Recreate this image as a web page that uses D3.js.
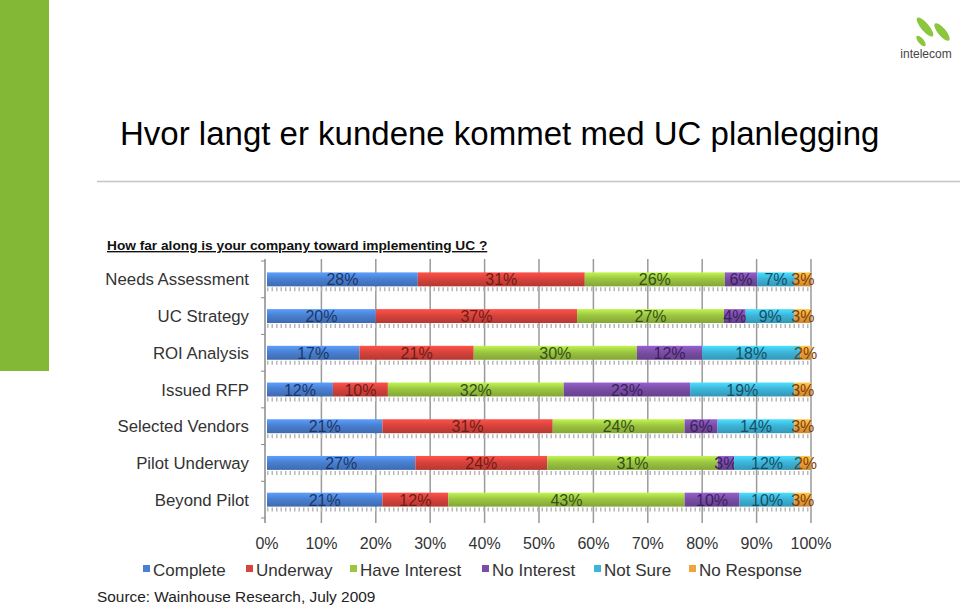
<!DOCTYPE html>
<html>
<head>
<meta charset="utf-8">
<script src="https://cdn.jsdelivr.net/npm/d3@7"></script>
<style>
  body { margin: 0; background: #fff; }
  svg { display: block; font-family: Arial, "Liberation Sans", sans-serif; }
</style>
</head>
<body>
<div id="chart"></div>
<script>
// data
var categories = ["Needs Assessment", "UC Strategy", "ROI Analysis", "Issued RFP",
                  "Selected Vendors", "Pilot Underway", "Beyond Pilot"];
var seriesNames = ["Complete", "Underway", "Have Interest", "No Interest", "Not Sure", "No Response"];
var complete     = [28, 20, 17, 12, 21, 27, 21];
var underway     = [31, 37, 21, 10, 31, 24, 12];
var haveInterest = [26, 27, 30, 32, 24, 31, 43];
var noInterest   = [6, 4, 12, 23, 6, 3, 10];
var notSure      = [7, 9, 18, 19, 14, 12, 10];
var noResponse   = [3, 3, 2, 3, 3, 2, 3];
var xTicks = [0, 0.1, 0.2, 0.3, 0.4, 0.5, 0.6, 0.7, 0.8, 0.9, 1];

var colors = ["#4a80d2", "#d8433c", "#9cc641", "#7a4ea6", "#3db5da", "#f0a23c"];
var textColors = ["#1c3764", "#6e1c18", "#34501a", "#3a1f5c", "#154f64", "#7a3f0a"];

var width = 960, height = 611;
var svg = d3.select("#chart").append("svg")
    .attr("width", width)
    .attr("height", height);

// slide decoration
svg.append("rect").attr("x", 0).attr("y", 0).attr("width", 49).attr("height", 371)
    .attr("fill", "#82b836");

svg.append("text")
    .attr("x", 120).attr("y", 145)
    .attr("font-size", 33)
    .attr("fill", "#000")
    .text("Hvor langt er kundene kommet med UC planlegging");

svg.append("line")
    .attr("x1", 97).attr("x2", 960).attr("y1", 181.5).attr("y2", 181.5)
    .attr("stroke", "#c4c4c4").attr("stroke-width", 1.5);

svg.append("text")
    .attr("x", 107).attr("y", 250)
    .attr("font-size", 13.7).attr("font-weight", "bold")
    .attr("text-decoration", "underline")
    .attr("fill", "#111")
    .text("How far along is your company toward implementing UC ?");

// logo: three green leaves
var logo = svg.append("g");
[[925, 27, 4, 12], [942, 32, 4, 11], [921, 41, 2.8, 6.5]].forEach(function(e) {
    logo.append("ellipse")
        .attr("cx", e[0]).attr("cy", e[1]).attr("rx", e[2]).attr("ry", e[3])
        .attr("transform", "rotate(-40," + e[0] + "," + e[1] + ")")
        .attr("fill", "#8cc63f");
});
svg.append("text").attr("x", 926).attr("y", 58)
    .attr("text-anchor", "middle").attr("font-size", 12)
    .attr("fill", "#444").text("intelecom");

// chart
var x = d3.scaleLinear().domain([0, 1]).range([267, 811]);
var y = d3.scaleBand().domain(categories).range([261, 518])
    .paddingInner(0.62).paddingOuter(0.31);

var allSeries = [complete, underway, haveInterest, noInterest, notSure, noResponse];
var rows = categories.map(function(c, i) {
    var row = { category: c };
    seriesNames.forEach(function(s, j) { row[s] = allSeries[j][i]; });
    return row;
});

var stack = d3.stack().keys(seriesNames).offset(d3.stackOffsetExpand);
var layers = stack(rows);

var defs = svg.append("defs");
colors.forEach(function(col, i) {
    var g = defs.append("linearGradient").attr("id", "grad" + i)
        .attr("x1", 0).attr("x2", 0).attr("y1", 0).attr("y2", 1);
    g.append("stop").attr("offset", "0%").attr("stop-color", d3.color(col).brighter(0.6));
    g.append("stop").attr("offset", "45%").attr("stop-color", col);
    g.append("stop").attr("offset", "100%").attr("stop-color", d3.color(col).darker(0.5));
});

// gridlines
svg.append("g")
    .selectAll("line")
    .data(xTicks.slice(1))
    .enter().append("line")
    .attr("x1", function(d) { return x(d); })
    .attr("x2", function(d) { return x(d); })
    .attr("y1", 259).attr("y2", 523)
    .attr("stroke", "#9a9a9a").attr("stroke-width", 1.5);

// y axis
var yAxis = svg.append("g")
    .attr("transform", "translate(265,0)");
yAxis.append("line").attr("x1", 0).attr("x2", 0).attr("y1", 259).attr("y2", 523)
    .attr("stroke", "#8a8a8a").attr("stroke-width", 1.5);
yAxis.selectAll(".ytick")
    .data(d3.range(categories.length + 1))
    .enter().append("line")
    .attr("x1", -4).attr("x2", 0)
    .attr("y1", function(i) { return 261 + i * y.step(); })
    .attr("y2", function(i) { return 261 + i * y.step(); })
    .attr("stroke", "#8a8a8a");

svg.append("g")
    .selectAll("text")
    .data(categories)
    .enter().append("text")
    .attr("x", 249)
    .attr("y", function(d) { return y(d) + y.bandwidth() / 2 + 6; })
    .attr("text-anchor", "end")
    .attr("font-size", 16.8)
    .attr("fill", "#333")
    .text(function(d) { return d; });

// dashed "shadow" line under each bar
svg.append("g")
    .selectAll("line")
    .data(categories)
    .enter().append("line")
    .attr("x1", x(0)).attr("x2", x(1))
    .attr("y1", function(d) { return y(d) + y.bandwidth() + 3; })
    .attr("y2", function(d) { return y(d) + y.bandwidth() + 3; })
    .attr("stroke", "#b8b8b8").attr("stroke-width", 4)
    .attr("stroke-dasharray", "1.5,3");

// bars
var layer = svg.selectAll(".layer")
    .data(layers)
    .enter().append("g")
    .attr("class", "layer");

layer.selectAll("rect")
    .data(function(d) { return d; })
    .enter().append("rect")
    .attr("x", function(d) { return x(d[0]); })
    .attr("y", function(d) { return y(d.data.category); })
    .attr("width", function(d) { return x(d[1]) - x(d[0]); })
    .attr("height", y.bandwidth())
    .attr("fill", function() { return "url(#grad" + d3.select(this.parentNode).datum().index + ")"; });

layer.selectAll("text")
    .data(function(d) { return d.map(function(p) { return { p: p, key: d.key, index: d.index }; }); })
    .enter().append("text")
    .attr("x", function(d) { return (x(d.p[0]) + x(d.p[1])) / 2; })
    .attr("y", function(d) { return y(d.p.data.category) + y.bandwidth() / 2 + 6; })
    .attr("text-anchor", "middle")
    .attr("font-size", 16)
    .attr("fill", function(d) { return textColors[d.index]; })
    .text(function(d) { return d.p.data[d.key] + "%"; });

// x axis labels
svg.append("g")
    .selectAll("text")
    .data(xTicks)
    .enter().append("text")
    .attr("x", function(d) { return x(d); })
    .attr("y", 549)
    .attr("text-anchor", "middle")
    .attr("font-size", 16)
    .attr("fill", "#333")
    .text(d3.format(".0%"));

// legend
var legendX = [143, 246, 350, 482, 594, 689];
var legend = svg.append("g")
    .selectAll("g")
    .data(seriesNames)
    .enter().append("g")
    .attr("transform", function(d, i) { return "translate(" + legendX[i] + ",570)"; });
legend.append("rect")
    .attr("x", 0).attr("y", -5).attr("width", 7).attr("height", 7)
    .attr("fill", function(d, i) { return colors[i]; });
legend.append("text")
    .attr("x", 10).attr("y", 6)
    .attr("font-size", 17)
    .attr("fill", "#333")
    .text(function(d) { return d; });

svg.append("text")
    .attr("x", 97).attr("y", 602)
    .attr("font-size", 15.4)
    .attr("fill", "#222")
    .text("Source: Wainhouse Research, July 2009");
</script>
</body>
</html>
